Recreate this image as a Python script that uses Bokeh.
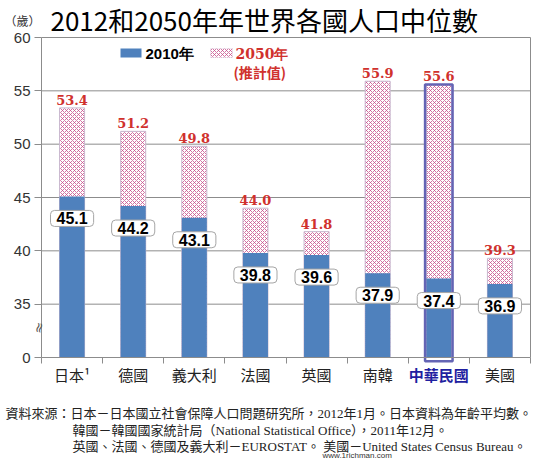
import math
from bokeh.plotting import figure
from bokeh.models import Label, FixedTicker, BoxAnnotation, Range1d
from bokeh.embed import file_html
from bokeh.resources import INLINE

# ---------------- data ----------------
countries = ["日本¹", "德國", "義大利", "法國", "英國", "南韓", "中華民國", "美國"]
median_2010 = [45.1, 44.2, 43.1, 39.8, 39.6, 37.9, 37.4, 36.9]
median_2050 = [53.4, 51.2, 49.8, 44.0, 41.8, 55.9, 55.6, 39.3]
y_ticks = [30, 35, 40, 45, 50, 55, 60]          # broken axis: 30 stands for 0
y_tick_labels = ["0", "35", "40", "45", "50", "55", "60"]
highlight = "中華民國"
title_text = "2012和2050年年世界各國人口中位數"
unit_text = "（歲）"
legend_2010 = "2010年"
legend_2050 = ["2050年", "(推計值)"]
notes = [
    "資料來源：日本－日本國立社會保障人口問題研究所，2012年1月。日本資料為年齡平均數。",
    "韓國－韓國國家統計局（National Statistical Office），2011年12月。",
    "英國、法國、德國及義大利－EUROSTAT。 美國－United States Census Bureau。",
]
watermark = "www.1richman.com"

# ---------------- layout / style ----------------
W, H = 543, 467
AX_LEFT, AX_RIGHT, AX_TOP, AX_BOTTOM = 41, 530, 37, 357   # plot box in pixels
BLUE = "#4f81bd"
RED = "#d0312d"
HATCH = "#c8508c"
GRID = "#8c8c8c"
CJK = "Noto Sans CJK TC"
NOTE_FONT = "Liberation Serif, Noto Sans CJK TC"
BAR_W = 0.41

n = len(countries)
xs = [i + 0.5 for i in range(n)]
y0, y1 = y_ticks[0], y_ticks[-1]
ppx = (AX_RIGHT - AX_LEFT) / n
ppy = (AX_BOTTOM - AX_TOP) / (y1 - y0)
x_range = Range1d(-AX_LEFT / ppx, n + (W - AX_RIGHT) / ppx)
y_range = Range1d(y0 - (H - AX_BOTTOM) / ppy, y1 + AX_TOP / ppy)

p = figure(width=W, height=H, x_range=x_range, y_range=y_range,
           output_backend="svg", toolbar_location=None, min_border=0)
p.background_fill_color = "white"
p.border_fill_color = "white"
p.outline_line_color = None
p.grid.visible = False

# axes drawn at the plot box edges
p.yaxis.fixed_location = 0
p.yaxis.bounds = (y0, y1)
p.yaxis.ticker = FixedTicker(ticks=y_ticks)
p.yaxis.major_label_overrides = {t: l for t, l in zip(y_ticks, y_tick_labels)}
p.yaxis.axis_line_color = GRID
p.yaxis.major_tick_line_color = GRID
p.yaxis.major_tick_out = 7
p.yaxis.major_tick_in = 0
p.yaxis.major_label_standoff = 4
p.yaxis.minor_tick_line_color = None
p.yaxis.major_label_text_font = "Liberation Sans"
p.yaxis.major_label_text_font_size = "15px"
p.yaxis.major_label_text_color = "#333333"

p.xaxis.fixed_location = y0
p.xaxis.bounds = (0, n)
p.xaxis.ticker = FixedTicker(ticks=list(range(n + 1)))
p.xaxis.major_label_overrides = {i: "" for i in range(n + 1)}
p.xaxis.axis_line_color = GRID
p.xaxis.major_tick_line_color = GRID
p.xaxis.major_tick_out = 6
p.xaxis.major_tick_in = 0
p.xaxis.minor_tick_line_color = None

# gridlines and plot box
p.segment(x0=0, x1=n, y0=y_ticks[1:], y1=y_ticks[1:], line_color=GRID, line_width=1)
p.segment(x0=[n], x1=[n], y0=[y0], y1=[y1], line_color=GRID, line_width=1)

# bars: 2050 (hatched, full height) then 2010 (solid) on top
p.vbar(x=xs, top=median_2050, bottom=y0, width=BAR_W, fill_color="white",
       line_color="#c9b8cf", line_width=1,
       hatch_pattern="x", hatch_color=HATCH, hatch_scale=4, hatch_weight=0.8)
p.vbar(x=xs, top=median_2010, bottom=y0, width=BAR_W, fill_color=BLUE, line_color=None)

# highlight outline around 中華民國
hi = countries.index(highlight)
p.quad(left=[xs[hi] - BAR_W / 2 - 0.02], right=[xs[hi] + BAR_W / 2 + 0.02],
       bottom=[y0 - 0.35], top=[median_2050[hi]], fill_color=None,
       line_color="#6464b4", line_width=2.5)

# value labels
for x, v10, v50 in zip(xs, median_2010, median_2050):
    p.add_layout(Label(x=x, y=v50, y_offset=3, text=f"{v50:.1f}", text_align="center",
                       text_baseline="bottom", text_font="DejaVu Serif",
                       text_font_style="bold", text_font_size="13px", text_color=RED))
    p.add_layout(Label(x=x, y=v10, y_offset=-22, text=f"{v10:.1f}", text_align="center",
                       text_baseline="middle", text_font="Liberation Sans",
                       text_font_style="bold", text_font_size="16px", text_color="black",
                       background_fill_color="white", border_line_color="#a6a6a6",
                       border_line_width=1, border_radius=4,
                       padding=dict(left=6, right=6, top=2, bottom=2)))

# category labels
for x, c in zip(xs, countries):
    is_hi = c == highlight
    p.add_layout(Label(x=x, y=y0, y_offset=-17, text=c,
                       text_align="center", text_baseline="middle", text_font=CJK,
                       text_font_size="15px",
                       text_font_style="bold" if is_hi else "normal",
                       text_color="#1f1fa0" if is_hi else "#222222"))

# axis break mark
p.add_layout(Label(x=38, y=H - 327, x_units="screen", y_units="screen", text="≈",
                   text_align="center", text_baseline="middle", angle=math.pi / 2 - 0.25,
                   text_font="DejaVu Sans", text_font_size="14px", text_color="#555555"))

# legend
def box(l, r, t, b, **kw):
    return BoxAnnotation(left=l, right=r, top=H - t, bottom=H - b, left_units="screen",
                         right_units="screen", bottom_units="screen", top_units="screen",
                         fill_alpha=1, **kw)

p.add_layout(box(120, 141, 48, 57, fill_color=BLUE, line_color=None))
p.add_layout(box(210, 232, 48, 57, fill_color="white", line_color="#c9b8cf",
                 hatch_pattern="x", hatch_color=HATCH, hatch_scale=4, hatch_weight=0.8))
p.add_layout(Label(x=145, y=H - 53, x_units="screen", y_units="screen", text=legend_2010,
                   text_baseline="middle", text_font="Liberation Sans", text_font_style="bold",
                   text_font_size="15px", text_color="black"))
p.add_layout(Label(x=235, y=H - 53, x_units="screen", y_units="screen", text=legend_2050[0],
                   text_baseline="middle", text_font="DejaVu Serif", text_font_style="bold",
                   text_font_size="14px", text_color=RED))
p.add_layout(Label(x=233, y=H - 71, x_units="screen", y_units="screen", text=legend_2050[1],
                   text_baseline="middle", text_font=CJK, text_font_style="bold",
                   text_font_size="14px", text_color=RED))

# title
p.add_layout(Label(x=4, y=H - 20, x_units="screen", y_units="screen", text=unit_text,
                   text_baseline="middle", text_font=CJK, text_font_size="12px",
                   text_color="#333333"))
p.add_layout(Label(x=50, y=H - 19, x_units="screen", y_units="screen", text=title_text,
                   text_baseline="middle", text_font=CJK, text_font_size="26px",
                   text_color="black"))

# notes
note_pos = [(5, 413), (72, 430), (72, 446)]
for (nx, ny), t in zip(note_pos, notes):
    p.add_layout(Label(x=nx, y=H - ny, x_units="screen", y_units="screen", text=t,
                       text_baseline="middle", text_font=NOTE_FONT, text_font_size="13px",
                       text_color="#222222"))
p.add_layout(Label(x=322, y=H - 455, x_units="screen", y_units="screen", text=watermark,
                   text_baseline="middle", text_font="Liberation Sans",
                   text_font_size="8px", text_color="#333333"))

open("out.html", "w").write(file_html(p, INLINE))
